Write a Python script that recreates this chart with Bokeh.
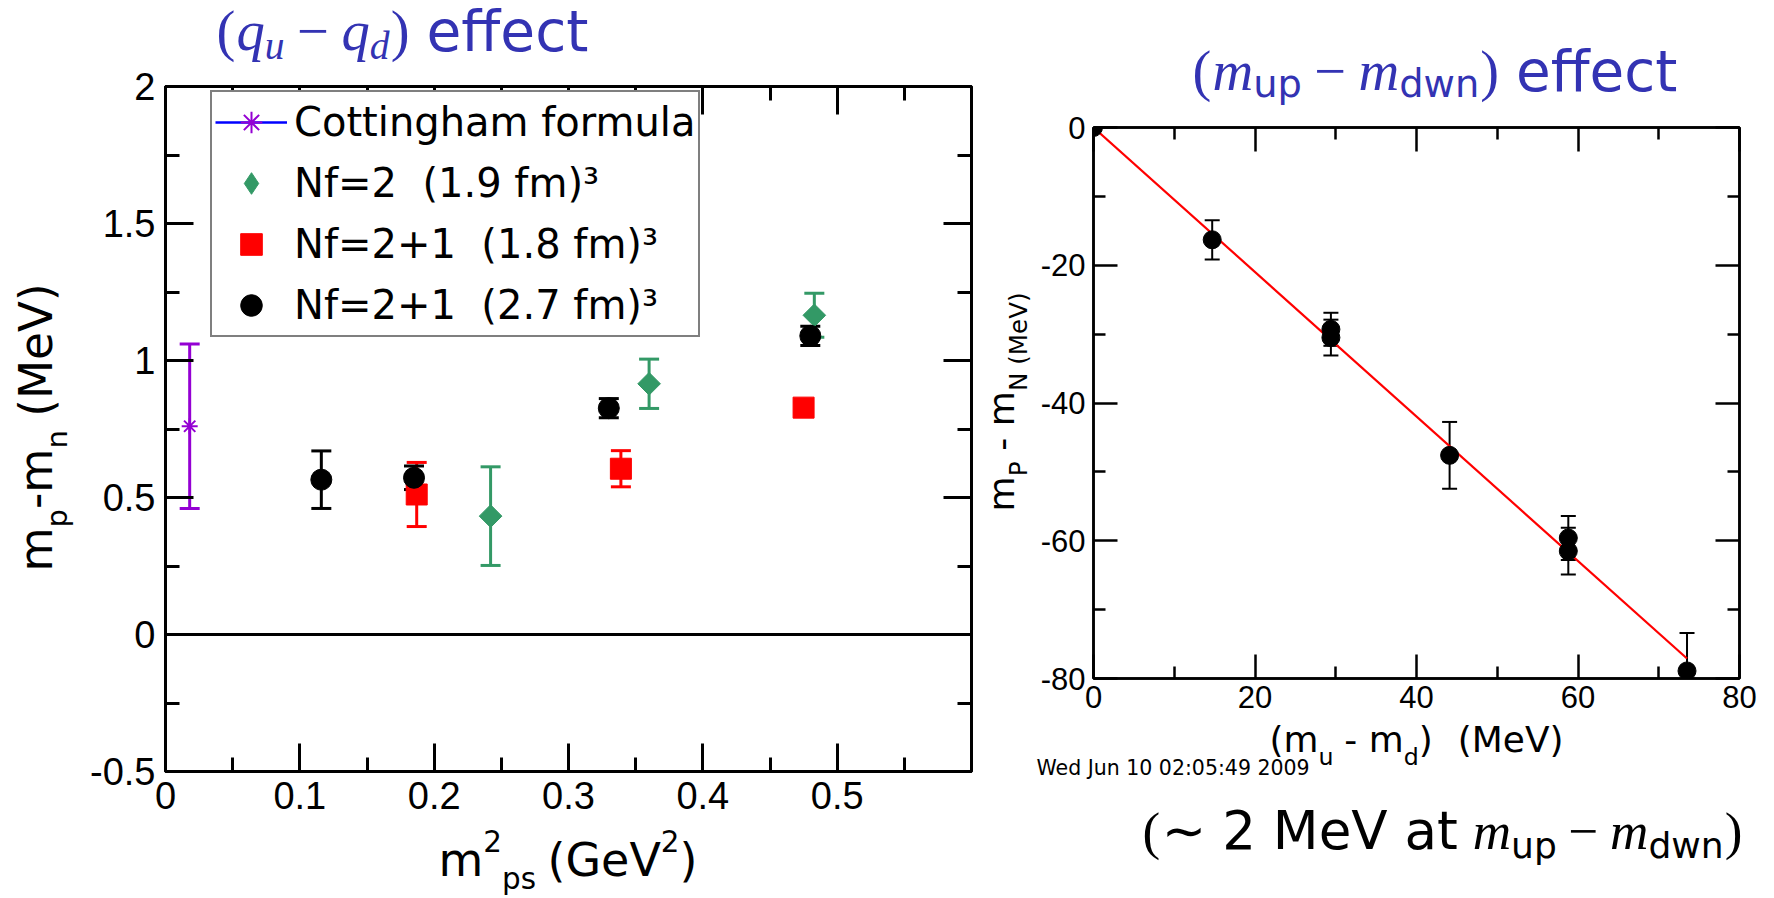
import glob, os, math
from bokeh.plotting import figure
from bokeh.models import (ColumnDataSource, Whisker, TeeHead, Span, Label, Legend,
                          LegendItem, LinearAxis, FixedTicker, Range1d)
from bokeh.layouts import row, column
from bokeh.embed import file_html
from bokeh.resources import INLINE

try:
    from PIL import ImageFont
except Exception:
    ImageFont = None

# ---------------- data: left panel ((q_u - q_d) effect) ----------------
cott_x = [0.018]
cott_y = [0.76]
cott_err = [0.30]

nf2_x = [0.242, 0.360, 0.483]
nf2_y = [0.432, 0.915, 1.165]
nf2_err = [0.18, 0.09, 0.08]

nf21a_x = [0.187, 0.339, 0.475]          # Nf=2+1 (1.8 fm)^3
nf21a_y = [0.511, 0.605, 0.828]
nf21a_err = [0.117, 0.066, 0.02]

nf21b_x = [0.116, 0.185, 0.330, 0.480]   # Nf=2+1 (2.7 fm)^3
nf21b_y = [0.565, 0.572, 0.826, 1.090]
nf21b_err = [0.105, 0.043, 0.035, 0.035]

left_xticks = [0, 0.1, 0.2, 0.3, 0.4, 0.5]
left_xlabels = ["0", "0.1", "0.2", "0.3", "0.4", "0.5"]
left_xminor = [0.05, 0.15, 0.25, 0.35, 0.45, 0.55]
left_yticks = [-0.5, 0, 0.5, 1, 1.5, 2]
left_ylabels = ["-0.5", "0", "0.5", "1", "1.5", "2"]
left_yminor = [-0.25, 0.25, 0.75, 1.25, 1.75]

legend_labels = ["Cottingham formula", "Nf=2  (1.9 fm)\u00b3",
                 "Nf=2+1  (1.8 fm)\u00b3", "Nf=2+1  (2.7 fm)\u00b3"]

# ---------------- data: right panel ((m_up - m_dwn) effect) ----------------
dm_x = [0, 14.7, 29.4, 29.4, 44.1, 58.8, 58.8, 73.5]
dm_y = [0, -16.3, -29.3, -30.5, -47.6, -59.6, -61.5, -78.9]
dm_err = [0, 2.85, 2.4, 2.6, 4.85, 3.2, 3.4, 5.5]
fit_x = [0, 73.5]
fit_y = [0, -77.1]

right_xticks = [0, 20, 40, 60, 80]
right_xlabels = ["0", "20", "40", "60", "80"]
right_xminor = [10, 30, 50, 70]
right_yticks = [-80, -60, -40, -20, 0]
right_ylabels = ["-80", "-60", "-40", "-20", "0"]
right_yminor = [-70, -50, -30, -10]

# ---------------- styling ----------------
BLUE_T = "#3333B3"
GREEN = "#339966"
RED = "#FF0000"
VIOLET = "#9400D3"
TICK_FONT = "Liberation Sans"
BASE_SHIFT = 0.38   # bokeh places "alphabetic" text this many em below the anchor

FONT_DIRS = ["/usr/share/fonts", "/usr/local/share/fonts",
             os.path.expanduser("~/.fonts"), os.path.expanduser("~/.local/share/fonts")]
FONTS = {
    "sans": ("DejaVu Sans", "normal", "DejaVuSans.ttf"),
    "serif": ("Liberation Serif", "normal", "LiberationSerif-Regular.ttf"),
    "serif_it": ("Liberation Serif", "italic", "LiberationSerif-Italic.ttf"),
    "sym": ("DejaVu Sans", "normal", "DejaVuSans.ttf"),
}
_cache = {}


def find_font(name):
    for d in FONT_DIRS:
        hits = glob.glob(os.path.join(d, "**", name), recursive=True)
        if hits:
            return hits[0]
    return None


def em_width(text, key):
    if key not in _cache:
        f = None
        path = find_font(FONTS[key][2])
        if ImageFont is not None and path:
            try:
                f = ImageFont.truetype(path, 200)
            except Exception:
                f = None
        _cache[key] = f
    f = _cache[key]
    if f is None:
        return 0.55 * len(text)
    return f.getlength(text) / 200.0


def no_align(p):
    try:
        p.frame_align = False
    except Exception:
        pass


def add_text(p, panel, X, Y, text, key, size, color, angle=0.0):
    fam, style, _ = FONTS[key]
    p.add_layout(Label(x=X - panel["fl"], y=panel["fb"] - Y, x_units="screen", y_units="screen",
                       text=text, text_font=fam, text_font_style=style,
                       text_font_size=f"{size:.1f}px", text_color=color,
                       text_align="left", text_baseline="alphabetic", angle=angle))


def compose(p, panel, pieces, X0, Y0, target, color, rotated=False):
    """pieces: (text, font key, relative size, baseline shift [em, up>0], gap before [em])"""
    unit = sum(g + em_width(t, k) * r for t, k, r, sh, g in pieces)
    S = target / unit
    pos = 0.0
    for t, k, r, sh, g in pieces:
        pos += g * S
        size = r * S
        if rotated:
            add_text(p, panel, X0 - sh * S - BASE_SHIFT * size, Y0 - pos, t, k, size, color,
                     angle=math.pi / 2)
        else:
            add_text(p, panel, X0 + pos, Y0 - sh * S - BASE_SHIFT * size, t, k, size, color)
        pos += em_width(t, k) * size
    return S


def strip(w, h, X0, Y0):
    f = figure(width=w, height=h, x_range=Range1d(0, w), y_range=Range1d(0, h),
               output_backend="svg", toolbar_location=None,
               x_axis_location=None, y_axis_location=None, min_border=0,
               outline_line_color=None, background_fill_color="white", border_fill_color="white")
    for g in list(f.xgrid) + list(f.ygrid):
        g.visible = False
    no_align(f)
    return f, dict(fl=X0, fb=Y0 + h)


def style_axis(ax, ticks, labels, minor, fsize, mj, mn, lw, show=True, standoff=10):
    ax.ticker = FixedTicker(ticks=ticks, minor_ticks=minor)
    ax.major_label_overrides = {t: (l if show else "") for t, l in zip(ticks, labels)}
    ax.major_tick_in = mj
    ax.major_tick_out = 0
    ax.minor_tick_in = mn
    ax.minor_tick_out = 0
    ax.major_tick_line_width = lw
    ax.minor_tick_line_width = lw
    ax.axis_line_width = lw
    ax.major_tick_line_color = "black"
    ax.minor_tick_line_color = "black"
    ax.axis_line_color = "black"
    ax.major_label_text_font = TICK_FONT
    ax.axis_label = None
    if show:
        ax.major_label_text_color = "black"
        ax.major_label_text_font_size = f"{fsize}px"
        ax.major_label_standoff = standoff
    else:
        ax.major_label_text_color = None
        ax.major_label_text_font_size = "0px"
        ax.major_label_standoff = 0


def add_whisker(p, xs, ys, errs, color, lw, cap):
    xs2 = [x for x, e in zip(xs, errs) if e > 0]
    up = [y + e for y, e in zip(ys, errs) if e > 0]
    lo = [y - e for y, e in zip(ys, errs) if e > 0]
    src = ColumnDataSource(dict(x=xs2, upper=up, lower=lo))
    p.add_layout(Whisker(source=src, base="x", upper="upper", lower="lower", dimension="height",
                         line_color=color, line_width=lw,
                         upper_head=TeeHead(size=cap, line_color=color, line_width=lw),
                         lower_head=TeeHead(size=cap, line_color=color, line_width=lw)))


# ================= left plot (canvas x 85..983, y 68..824) =================
p1 = figure(width=898, height=756, x_range=Range1d(0, 0.6), y_range=Range1d(-0.5, 2),
            output_backend="svg", toolbar_location=None,
            min_border_left=80, min_border_right=12, min_border_top=18, min_border_bottom=53,
            background_fill_color="white", border_fill_color="white",
            outline_line_color="black", outline_line_width=3)
no_align(p1)
p1.xgrid.visible = False
p1.ygrid.visible = False
style_axis(p1.below[0], left_xticks, left_xlabels, left_xminor, 38, 28, 14, 3, True, 10)
style_axis(p1.left[0], left_yticks, left_ylabels, left_yminor, 38, 28, 14, 3, True, 10)
ax_top = LinearAxis()
ax_right = LinearAxis()
p1.add_layout(ax_top, "above")
p1.add_layout(ax_right, "right")
style_axis(ax_top, left_xticks, left_xlabels, left_xminor, 38, 28, 14, 3, False)
style_axis(ax_right, left_yticks, left_ylabels, left_yminor, 38, 28, 14, 3, False)

p1.add_layout(Span(location=0, dimension="width", line_color="black", line_width=3))

add_whisker(p1, cott_x, cott_y, cott_err, VIOLET, 3, 20)
add_whisker(p1, nf2_x, nf2_y, nf2_err, GREEN, 3, 20)
add_whisker(p1, nf21a_x, nf21a_y, nf21a_err, RED, 3, 20)
add_whisker(p1, nf21b_x, nf21b_y, nf21b_err, "black", 3, 20)

r_cott_line = p1.line(cott_x, cott_y, line_color="#0000FF", line_width=2.5)
r_cott = p1.scatter(cott_x, cott_y, marker="asterisk", size=16, line_color=VIOLET, line_width=2)
# diamond key glyph (fully covered by the rotated squares below) used for the legend entry
r_nf2_key = p1.scatter(nf2_x, nf2_y, marker="diamond", size=19, fill_color=GREEN, line_color=GREEN)
r_nf2 = p1.scatter(nf2_x, nf2_y, marker="square", angle=math.pi / 4, size=16,
                   fill_color=GREEN, line_color=GREEN)
r_nf21a = p1.scatter(nf21a_x, nf21a_y, marker="square", size=21, fill_color=RED, line_color=RED)
r_nf21b = p1.scatter(nf21b_x, nf21b_y, marker="circle", size=21, fill_color="black", line_color="black")

legend = Legend(items=[
    LegendItem(label=legend_labels[0], renderers=[r_cott_line, r_cott]),
    LegendItem(label=legend_labels[1], renderers=[r_nf2_key]),
    LegendItem(label=legend_labels[2], renderers=[r_nf21a]),
    LegendItem(label=legend_labels[3], renderers=[r_nf21b]),
], location=(45, 434), padding=3, glyph_width=72, glyph_height=54,
    label_height=54, label_standoff=7, spacing=7, margin=0,
    label_text_font="DejaVu Sans", label_text_font_size="40px", label_text_color="black",
    border_line_color="black", border_line_width=2.5,
    background_fill_color="white", background_fill_alpha=1.0)
p1.add_layout(legend)

# ================= right plot (canvas x 1037..1774, y 108..720) =================
p2 = figure(width=737, height=612, x_range=Range1d(0, 80), y_range=Range1d(-80, 0),
            output_backend="svg", toolbar_location=None,
            min_border_left=55, min_border_right=35, min_border_top=19, min_border_bottom=42,
            background_fill_color="white", border_fill_color="white",
            outline_line_color="black", outline_line_width=2.5)
no_align(p2)
p2.xgrid.visible = False
p2.ygrid.visible = False
style_axis(p2.below[0], right_xticks, right_xlabels, right_xminor, 31, 24, 12, 2.5, True, 7)
style_axis(p2.left[0], right_yticks, right_ylabels, right_yminor, 31, 24, 12, 2.5, True, 8)
ax2_top = LinearAxis()
ax2_right = LinearAxis()
p2.add_layout(ax2_top, "above")
p2.add_layout(ax2_right, "right")
style_axis(ax2_top, right_xticks, right_xlabels, right_xminor, 31, 24, 12, 2.5, False)
style_axis(ax2_right, right_yticks, right_ylabels, right_yminor, 31, 24, 12, 2.5, False)

add_whisker(p2, dm_x, dm_y, dm_err, "black", 2, 15)
p2.line(fit_x, fit_y, line_color=RED, line_width=2.2)
p2.scatter(dm_x, dm_y, marker="circle", size=18, fill_color="black", line_color="black")

# ================= text strips =================
T1, PT1 = strip(983, 68, 0, 0)
YL1, PYL1 = strip(85, 756, 0, 68)
B1, PB1 = strip(983, 74, 0, 824)
T2, PT2 = strip(791, 108, 983, 0)
YL2, PYL2 = strip(54, 612, 983, 108)
B2, PB2 = strip(791, 178, 983, 720)

# left title  (q_u - q_d) effect
compose(T1, PT1, [("(", "serif", 1, 0, 0), ("q", "serif_it", 1, 0, 0.02),
                  ("u", "serif_it", 0.7, -0.15, 0), ("\u2212", "serif", 1, 0, 0.22),
                  ("q", "serif_it", 1, 0, 0.22), ("d", "serif_it", 0.7, -0.15, 0),
                  (")", "serif", 1, 0, 0.02), ("effect", "sans", 1, 0, 0.3)],
        216, 52, 372, BLUE_T)

# left y label  m_p-m_n (MeV)
compose(YL1, PYL1, [("m", "sans", 1, 0, 0), ("p", "sans", 0.64, -0.33, 0),
                    ("-m", "sans", 1, 0, 0), ("n", "sans", 0.64, -0.33, 0),
                    ("(MeV)", "sans", 1, 0, 0.3)],
        53, 571, 288, "black", rotated=True)

# left x label  m^2_ps (GeV^2)
compose(B1, PB1, [("m", "sans", 1, 0, 0), ("2", "sans", 0.64, 0.55, 0),
                  ("ps", "sans", 0.64, -0.28, 0), ("(GeV", "sans", 1, 0, 0.25),
                  ("2", "sans", 0.64, 0.55, 0), (")", "sans", 1, 0, 0)],
        438, 877, 259, "black")

# right title  (m_up - m_dwn) effect
compose(T2, PT2, [("(", "serif", 1, 0, 0), ("m", "serif_it", 1, 0, 0.02),
                  ("up", "sans", 0.68, -0.1, 0), ("\u2212", "serif", 1, 0, 0.22),
                  ("m", "serif_it", 1, 0, 0.22), ("dwn", "sans", 0.68, -0.1, 0),
                  (")", "serif", 1, 0, 0.02), ("effect", "sans", 1, 0, 0.3)],
        1192, 92, 485, BLUE_T)

# right y label  m_P - m_N (MeV)
compose(YL2, PYL2, [("m", "sans", 1, 0, 0), ("P", "sans", 0.68, -0.33, 0),
                    ("- m", "sans", 1, 0, 0.3), ("N (MeV)", "sans", 0.68, -0.33, 0)],
        1015, 511, 219, "black", rotated=True)

# right x label  (m_u - m_d)  (MeV)
compose(B2, PB2, [("(m", "sans", 1, 0, 0), ("u", "sans", 0.66, -0.35, 0),
                  ("- m", "sans", 1, 0, 0.3), ("d", "sans", 0.66, -0.35, 0),
                  (")", "sans", 1, 0, 0), ("(MeV)", "sans", 1, 0, 0.7)],
        1269, 753, 294, "black")

# time stamp
compose(B2, PB2, [("Wed Jun 10 02:05:49 2009", "sans", 1, 0, 0)], 1036, 775, 273, "black")

# caption  (~ 2 MeV at m_up - m_dwn)
compose(B2, PB2, [("(", "serif", 1, 0, 0), ("\u223c", "sym", 1, 0, 0.03),
                  ("2 MeV at", "sans", 1, 0, 0.3), ("m", "serif_it", 1, 0, 0.28),
                  ("up", "sans", 0.68, -0.15, 0), ("\u2212", "serif", 1, 0, 0.22),
                  ("m", "serif_it", 1, 0, 0.22), ("dwn", "sans", 0.68, -0.15, 0),
                  (")", "serif", 1, 0, 0.02)],
        1142, 851, 600, "black")

colL = column(T1, row(YL1, p1), B1)
colR = column(T2, row(YL2, p2), B2)
layout = row(colL, colR)
open("out.html", "w").write(file_html(layout, INLINE))
